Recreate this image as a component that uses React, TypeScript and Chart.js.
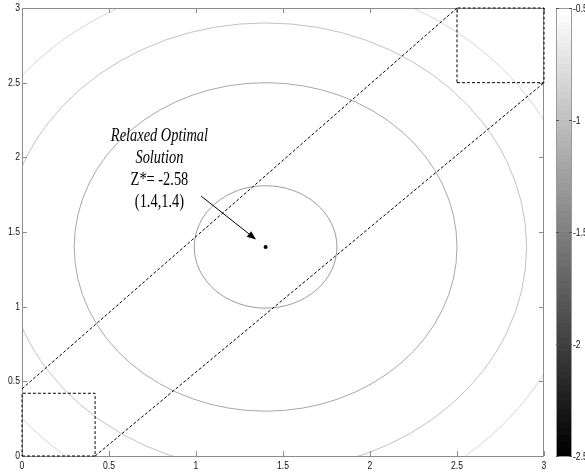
import { useEffect, useRef } from "react";
import { Chart, registerables } from "chart.js";
Chart.register(...registerables);

// ---- data ----
const xTicks = [0, 0.5, 1, 1.5, 2, 2.5, 3];
const yTicks = [0, 0.5, 1, 1.5, 2, 2.5, 3];
const optimumX = 1.4;
const optimumY = 1.4;
const contourLevels = [-2.5, -2, -1.5, -1];
const contourRadii = [0.41, 1.1, 1.5, 1.81];
const contourColors = ["#9c9c9c", "#a8a8a8", "#c2c2c2", "#d6d6d6"];
const lowerBoxX = [0, 0.42, 0.42, 0, 0];
const lowerBoxY = [0, 0, 0.42, 0.42, 0];
const upperBoxX = [2.5, 3, 3, 2.5, 2.5];
const upperBoxY = [2.5, 2.5, 3, 3, 2.5];
const upperLineX = [0, 2.5];
const upperLineY = [0.45, 3];
const lowerLineX = [0.42, 3];
const lowerLineY = [0, 2.5];
const arrowFrom = [1.03, 1.74];
const arrowTo = [1.345, 1.45];
const labelLines = ["Relaxed Optimal", "Solution", "Z*= -2.58", "(1.4,1.4)"];
const labelItalic = [true, true, false, false];
const labelAnchor = [0.79, 2.11];
const colorbarTicks = [-0.5, -1, -1.5, -2, -2.5];
const colorbarMin = -2.5;
const colorbarMax = -0.5;
const colorbarSteps = 64;

const TICK_FONT = "11px 'Liberation Sans', Arial, sans-serif";
const SQUEEZE = 0.78;

const toPts = (xs: number[], ys: number[]) => xs.map((x, i) => ({ x, y: ys[i] }));

function squeezedText(ctx: any, text: string, x: number, y: number, align: string, baseline: string) {
  ctx.save();
  ctx.translate(x, y);
  ctx.scale(SQUEEZE, 1);
  ctx.font = TICK_FONT;
  ctx.textAlign = align;
  ctx.textBaseline = baseline;
  ctx.fillStyle = "#111";
  ctx.fillText(text, 0, 0);
  ctx.restore();
}

const decorPlugin = {
  id: "decor",
  beforeDraw(chart: any) {
    const ctx = chart.ctx;
    ctx.save();
    ctx.fillStyle = "#ffffff";
    ctx.fillRect(0, 0, chart.width, chart.height);
    ctx.restore();
  },
  beforeDatasetsDraw(chart: any) {
    const ctx = chart.ctx;
    const { left, right, top, bottom } = chart.chartArea;
    const xs = chart.scales.x;
    const ys = chart.scales.y;
    ctx.save();
    // contours
    contourRadii.forEach((r, i) => {
      const cx = xs.getPixelForValue(optimumX);
      const cy = ys.getPixelForValue(optimumY);
      const rx = Math.abs(xs.getPixelForValue(optimumX + r) - cx);
      const ry = Math.abs(ys.getPixelForValue(optimumY + r) - cy);
      ctx.save();
      ctx.beginPath();
      ctx.rect(left, top, right - left, bottom - top);
      ctx.clip();
      ctx.beginPath();
      ctx.ellipse(cx, cy, rx, ry, 0, 0, Math.PI * 2);
      ctx.strokeStyle = contourColors[i];
      ctx.lineWidth = 1;
      ctx.stroke();
      ctx.restore();
    });
    // axes box
    ctx.strokeStyle = "#8c8c8c";
    ctx.lineWidth = 1;
    ctx.strokeRect(left + 0.5, top + 0.5, right - left - 1, bottom - top);
    // inside ticks
    const tl = 5;
    ctx.beginPath();
    xs.ticks.forEach((t: any) => {
      const px = Math.round(xs.getPixelForValue(t.value)) + 0.5;
      ctx.moveTo(px, bottom);
      ctx.lineTo(px, bottom - tl);
      ctx.moveTo(px, top);
      ctx.lineTo(px, top + tl);
    });
    ys.ticks.forEach((t: any) => {
      const py = Math.round(ys.getPixelForValue(t.value)) + 0.5;
      ctx.moveTo(left, py);
      ctx.lineTo(left + tl, py);
      ctx.moveTo(right, py);
      ctx.lineTo(right - tl, py);
    });
    ctx.stroke();
    ctx.restore();
  },
  afterDraw(chart: any) {
    const ctx = chart.ctx;
    const { left, right, top, bottom } = chart.chartArea;
    const xs = chart.scales.x;
    const ys = chart.scales.y;
    ctx.save();
    // tick labels (condensed, like the reference)
    xs.ticks.forEach((t: any) => {
      squeezedText(ctx, String(t.value), xs.getPixelForValue(t.value), bottom + 4, "center", "top");
    });
    ys.ticks.forEach((t: any) => {
      squeezedText(ctx, String(t.value), left - 2, ys.getPixelForValue(t.value), "right", "middle");
    });
    // arrow
    const ax0 = xs.getPixelForValue(arrowFrom[0]);
    const ay0 = ys.getPixelForValue(arrowFrom[1]);
    const ax1 = xs.getPixelForValue(arrowTo[0]);
    const ay1 = ys.getPixelForValue(arrowTo[1]);
    const ang = Math.atan2(ay1 - ay0, ax1 - ax0);
    const hl = 9;
    const hw = 3.5;
    ctx.strokeStyle = "#000";
    ctx.fillStyle = "#000";
    ctx.lineWidth = 1;
    ctx.beginPath();
    ctx.moveTo(ax0, ay0);
    ctx.lineTo(ax1 - Math.cos(ang) * hl, ay1 - Math.sin(ang) * hl);
    ctx.stroke();
    ctx.beginPath();
    ctx.moveTo(ax1, ay1);
    ctx.lineTo(
      ax1 - Math.cos(ang) * hl - Math.sin(ang) * hw,
      ay1 - Math.sin(ang) * hl + Math.cos(ang) * hw
    );
    ctx.lineTo(
      ax1 - Math.cos(ang) * hl + Math.sin(ang) * hw,
      ay1 - Math.sin(ang) * hl - Math.cos(ang) * hw
    );
    ctx.closePath();
    ctx.fill();
    // annotation text
    const tx = xs.getPixelForValue(labelAnchor[0]);
    const ty = ys.getPixelForValue(labelAnchor[1]);
    labelLines.forEach((line, i) => {
      ctx.save();
      ctx.translate(tx, ty + i * 22);
      ctx.scale(0.8, 1);
      ctx.font = (labelItalic[i] ? "italic " : "") + "18px 'Liberation Serif', 'Times New Roman', serif";
      ctx.textAlign = "center";
      ctx.textBaseline = "alphabetic";
      ctx.fillStyle = "#000";
      ctx.fillText(line, 0, 0);
      ctx.restore();
    });
    // colorbar
    const cbL = right + 12;
    const cbW = 16;
    const cbT = top;
    const cbB = bottom + 1;
    const cbH = cbB - cbT;
    for (let i = 0; i < colorbarSteps; i++) {
      const g = Math.round((255 * (colorbarSteps - 1 - i)) / (colorbarSteps - 1));
      const y0 = cbT + (i * cbH) / colorbarSteps;
      const y1 = cbT + ((i + 1) * cbH) / colorbarSteps;
      ctx.fillStyle = `rgb(${g},${g},${g})`;
      ctx.fillRect(cbL, Math.floor(y0), cbW, Math.ceil(y1) - Math.floor(y0));
    }
    ctx.strokeStyle = "#9a9a9a";
    ctx.lineWidth = 1;
    ctx.strokeRect(cbL + 0.5, cbT + 0.5, cbW - 1, cbH - 1);
    colorbarTicks.forEach((v) => {
      const py = Math.round(cbT + ((colorbarMax - v) / (colorbarMax - colorbarMin)) * (cbH - 1)) + 0.5;
      ctx.strokeStyle = "#555";
      ctx.beginPath();
      ctx.moveTo(cbL, py);
      ctx.lineTo(cbL + 3, py);
      ctx.moveTo(cbL + cbW, py);
      ctx.lineTo(cbL + cbW - 3, py);
      ctx.stroke();
      squeezedText(ctx, String(v), cbL + cbW + 1, Math.max(py, 5), "left", "middle");
    });
    ctx.restore();
  },
};

export default function App() {
  const ref = useRef<HTMLCanvasElement | null>(null);
  useEffect(() => {
    if (!ref.current) return;
    const dashed = {
      showLine: true,
      pointRadius: 0,
      borderColor: "#000",
      borderWidth: 1,
      borderDash: [3, 2],
      fill: false,
      clip: false as any,
    };
    const chart = new Chart(ref.current, {
      type: "scatter",
      data: {
        datasets: [
          { ...dashed, data: toPts(lowerBoxX, lowerBoxY) },
          { ...dashed, data: toPts(upperBoxX, upperBoxY) },
          { ...dashed, data: toPts(upperLineX, upperLineY) },
          { ...dashed, data: toPts(lowerLineX, lowerLineY) },
          {
            data: [{ x: optimumX, y: optimumY }],
            pointRadius: 2,
            backgroundColor: "#000",
            borderColor: "#000",
            borderWidth: 0,
            showLine: false,
          },
        ],
      },
      options: {
        responsive: false,
        animation: false,
        layout: { padding: { top: 8, right: 41, left: 0, bottom: 0 } },
        plugins: { legend: { display: false }, tooltip: { enabled: false } },
        scales: {
          x: {
            type: "linear",
            min: 0,
            max: 3,
            grid: { display: false, drawTicks: false },
            border: { display: false },
            afterBuildTicks: (s: any) => {
              s.ticks = xTicks.map((v) => ({ value: v }));
            },
            afterFit: (s: any) => {
              s.height = 20;
            },
            ticks: { display: false },
          },
          y: {
            type: "linear",
            min: 0,
            max: 3,
            grid: { display: false, drawTicks: false },
            border: { display: false },
            afterBuildTicks: (s: any) => {
              s.ticks = yTicks.map((v) => ({ value: v }));
            },
            afterFit: (s: any) => {
              s.width = 22;
            },
            ticks: { display: false },
          },
        },
      },
      plugins: [decorPlugin],
    } as any);
    return () => chart.destroy();
  }, []);
  return (
    <div style={{ position: "absolute", left: 0, top: 0, width: 585, height: 476 }}>
      <canvas ref={ref} width={585} height={476} style={{ display: "block" }} />
    </div>
  );
}
